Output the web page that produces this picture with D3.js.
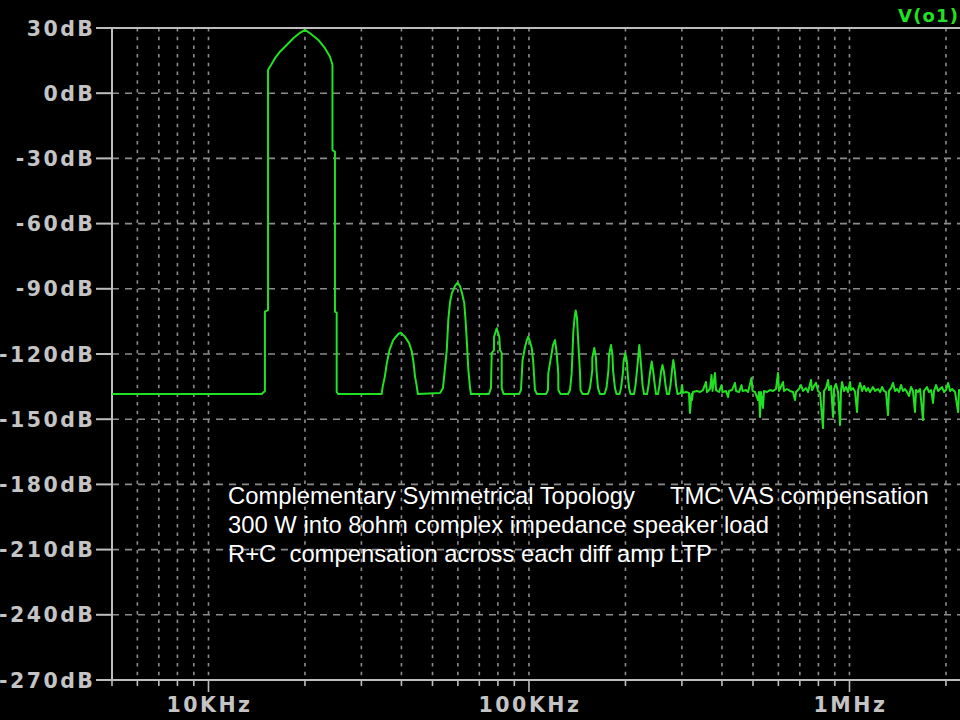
<!DOCTYPE html>
<html><head><meta charset="utf-8">
<script src="https://cdn.jsdelivr.net/npm/d3@7"></script>
<style>html,body{margin:0;padding:0;background:#000;overflow:hidden}</style>
</head><body>
<svg id="c" width="960" height="720"></svg>
<script>
// ---- data (frequency in kHz, level in dB) ----
const yTicks = [30, 0, -30, -60, -90, -120, -150, -180, -210, -240, -270];
const xLabelTicks = [10, 100, 1000];
const xLabels = ["10KHz", "100KHz", "1MHz"];
const traceName = "V(o1)";
const noteLine1a = "Complementary Symmetrical Topology";
const noteLine1b = "TMC VAS compensation";
const noteLine2 = "300 W into 8ohm complex impedance speaker load";
const noteLine3 = "R+C  compensation across each diff amp LTP";

const floorLead = [[5, -138.4]];
const fundamental = [[14.66,-138.4],[15.0,-137.0],[15.0,-100.5],[15.34,-99.8],[15.34,10.7],[15.56,12.2],[16.13,16.1],[16.71,19.1],[17.54,22.2],[18.39,25.3],[19.3,27.8],[20.0,29.1],[20.74,27.6],[22.02,24.5],[23.09,20.7],[23.94,16.8],[24.37,13.0],[24.37,-26.1],[24.81,-27.0],[24.81,-100.5],[25.12,-101.0],[25.12,-137.5],[25.36,-138.4]];
const harmonics = [
 [34.7,-138.4],[34.96,-135.0],[35.5,-130.4],[36.0,-124.3],[36.7,-118.2],[37.7,-113.6],[39.1,-110.8],[39.8,-110.2],[41.0,-112.0],[42.3,-115.1],[43.1,-118.9],[43.6,-123.5],[44.1,-130.4],[44.6,-134.3],[45.0,-138.4],
 [52.8,-138.0],[53.9,-135.7],[54.5,-128.8],[55.4,-118.2],[56.0,-104.4],[56.7,-96.1],[57.5,-91.9],[58.8,-88.7],[59.9,-87.2],[60.9,-88.7],[61.8,-91.9],[62.8,-96.5],[63.4,-104.4],[63.9,-112.7],[64.7,-127.4],[65.5,-135.7],[65.9,-138.4],
 [75.0,-138.4],[76.1,-135.7],[76.5,-119.6],[77.8,-118.2],[77.8,-112.2],[79.3,-108.2],[80.8,-112.2],[81.2,-118.2],[82.2,-119.6],[82.2,-135.7],[83.3,-138.4],
 [93.1,-138.4],[94.4,-136.6],[95.5,-122.8],[97.2,-116.8],[98.3,-114.0],[99.5,-112.0],[100.7,-114.4],[102.0,-117.2],[103.1,-123.7],[104.4,-136.6],[105.9,-138.4],
 [113.0,-138.4],[114.6,-136.6],[114.9,-128.8],[117.7,-119.6],[118.8,-115.9],[120.6,-113.6],[122.0,-119.6],[123.4,-128.8],[123.5,-136.6],[125.4,-138.4],
 [132.4,-138.4],[134.3,-136.6],[135.9,-128.8],[137.5,-109.9],[138.7,-103.4],[139.9,-100.0],[141.2,-103.4],[141.9,-109.9],[144.3,-128.8],[144.8,-136.6],[146.9,-138.4],
 [152.8,-138.4],[155.0,-135.7],[157.6,-127.4],[157.6,-121.8],[159.9,-117.2],[161.8,-121.8],[162.4,-127.4],[164.2,-135.7],[166.5,-138.4],
 [172.0,-138.4],[174.5,-135.7],[177.0,-127.4],[177.7,-120.5],[180.2,-115.9],[182.2,-120.5],[182.9,-127.4],[185.5,-135.7],[187.5,-138.4],
 [191.7,-138.4],[193.7,-135.7],[196.5,-128.3],[197.2,-123.7],[199.8,-119.6],[202.2,-123.7],[203.0,-128.3],[205.2,-135.7],[207.4,-138.4],
 [212.7,-138.4],[215.0,-134.3],[218.1,-125.1],[220.9,-115.9],[223.7,-125.1],[226.1,-134.3],[228.5,-138.4],
 [233.6,-138.4],[236.1,-134.3],[238.6,-128.3],[241.5,-123.5],[244.3,-128.3],[246.9,-134.3],[249.1,-138.4],
 [252.7,-138.4],[255.4,-134.3],[258.2,-128.3],[261.0,-125.1],[263.8,-128.3],[266.7,-134.3],[269.6,-138.4],
 [273.5,-138.4],[276.4,-134.3],[279.4,-127.4],[282.0,-122.8],[284.9,-127.4],[287.6,-134.3],[290.7,-138.4]
];
const noise = [[291.7,-138.4],[298,-137.9],[300.2,-134.3],[302.4,-137.9],[309,-137.5],[315.6,-137.9],[317.9,-147.1],[321.3,-138.4],[322.5,-141.2],[324.8,-137.5],[334.3,-137.0],[341.6,-137.5],[349,-136.6],[356.6,-132.9],[359.2,-137.5],[367.1,-136.1],[371.1,-129.7],[373.8,-137.0],[380.6,-128.7],[383.3,-136.6],[391.7,-137.5],[398.8,-134.3],[401.7,-137.5],[411.9,-137.0],[417.9,-139.8],[420.9,-137.0],[430,-136.6],[439.4,-133.3],[442.6,-137.0],[452.2,-137.5],[460.5,-134.3],[463.8,-137.0],[475.6,-136.6],[482.4,-137.5],[494.6,-131.0],[498.2,-137.0],[507.2,-137.5],[518.3,-141.2],[522,-137.5],[525.8,-149.0],[529.6,-137.5],[537.2,-144.8],[541.1,-137.0],[552.8,-137.5],[565,-136.6],[577.3,-137.0],[589.8,-136.1],[598.4,-128.7],[602.8,-137.0],[620.4,-132.9],[624.9,-137.0],[638.4,-136.1],[652.3,-137.0],[666.4,-137.5],[676.1,-141.2],[681,-137.5],[695.9,-136.1],[706.1,-134.3],[716.2,-137.0],[731.7,-135.7],[742.5,-137.5],[758.6,-132.0],[764.1,-136.6],[775.2,-134.7],[786.4,-133.3],[797.8,-137.0],[809.3,-137.9],[826.9,-154.1],[832.9,-137.0],[845,-135.7],[857.2,-132.0],[863.4,-136.6],[875.9,-134.7],[888.6,-149.0],[895,-136.1],[908,-133.8],[921.1,-137.5],[934.4,-152.7],[941.2,-136.6],[948,-132.9],[961.7,-137.0],[975.6,-135.2],[989.7,-137.5],[1004,-132.9],[1011,-136.6],[1026,-135.7],[1041,-137.5],[1056,-146.7],[1064,-136.6],[1079,-133.3],[1095,-137.0],[1111,-134.7],[1127,-137.0],[1143,-135.7],[1159,-137.5],[1184,-135.2],[1202,-137.0],[1228,-136.1],[1246,-137.5],[1264,-135.2],[1282,-137.0],[1300,-137.5],[1319,-148.1],[1328,-137.0],[1348,-135.7],[1367,-133.3],[1387,-137.0],[1407,-136.1],[1427,-137.5],[1448,-134.3],[1469,-137.0],[1490,-136.1],[1512,-137.5],[1534,-139.3],[1556,-135.2],[1578,-137.0],[1601,-146.7],[1613,-136.6],[1636,-137.5],[1660,-136.1],[1696,-150.4],[1708,-137.0],[1745,-135.2],[1771,-137.5],[1797,-136.6],[1823,-142.5],[1836,-137.0],[1863,-134.3],[1890,-137.0],[1917,-136.1],[1945,-135.2],[1973,-137.5],[2001,-136.6],[2031,-133.3],[2060,-137.0],[2090,-136.1],[2135,-137.5],[2182,-146.7],[2197,-136.6],[2245,-137.0]];

// ---- drawing ----
const svg = d3.select("#c");
svg.append("rect").attr("width", 960).attr("height", 720).attr("fill", "#000");

const x = d3.scaleLog().domain([5, 3000]).range([112, 1002.4]);
const y = d3.scaleLinear().domain([-270, 30]).range([680, 28]);
const gridCol = "#8c8c8c", axisCol = "#bdbdbd", textCol = "#c4c4c4";

// grid frequencies (1..9 x decade)
const gridF = [];
[1, 10, 100, 1000].forEach(d => { for (let k = 1; k <= 9; k++) { const f = k * d; if (f > 5 && f <= 3000) gridF.push(f); } });

const g = svg.append("g");
g.selectAll("line.vg").data(gridF).join("line")
  .attr("x1", d => x(d)).attr("x2", d => x(d)).attr("y1", y(30)).attr("y2", y(-270))
  .attr("stroke", gridCol).attr("stroke-width", 1.6).attr("stroke-dasharray", "3.5,5.2");
g.selectAll("line.hg").data(yTicks.slice(1, -1)).join("line")
  .attr("x1", 112).attr("x2", 960).attr("y1", d => y(d)).attr("y2", d => y(d))
  .attr("stroke", gridCol).attr("stroke-width", 1.6).attr("stroke-dasharray", "7,6");

// axes frame
const ax = svg.append("g").attr("stroke", axisCol).attr("stroke-width", 2);
ax.append("line").attr("x1", 112).attr("x2", 112).attr("y1", y(30)).attr("y2", y(-270));
ax.append("line").attr("x1", 112).attr("x2", 960).attr("y1", y(30)).attr("y2", y(30));
ax.append("line").attr("x1", 112).attr("x2", 960).attr("y1", y(-270)).attr("y2", y(-270));
ax.selectAll("line.lt").data(yTicks).join("line")
  .attr("x1", 96).attr("x2", 112).attr("y1", d => y(d)).attr("y2", d => y(d));
ax.selectAll("line.bt").data([5].concat(gridF)).join("line")
  .attr("x1", d => x(d)).attr("x2", d => x(d)).attr("y1", 680)
  .attr("y2", d => xLabelTicks.includes(d) ? 692 : 686).attr("stroke-width", 1.6);

// y labels
svg.selectAll("text.yl").data(yTicks).join("text")
  .attr("x", 95.5).attr("y", d => y(d) + 7.5).attr("text-anchor", "end")
  .attr("fill", textCol).attr("font-family", "DejaVu Sans").attr("font-weight", "bold")
  .attr("font-size", 20.5).attr("letter-spacing", 2.5).text(d => d + "dB");
// x labels
svg.selectAll("text.xl").data(xLabelTicks).join("text")
  .attr("x", d => x(d) + 1).attr("y", 712).attr("text-anchor", "middle")
  .attr("fill", textCol).attr("font-family", "DejaVu Sans").attr("font-weight", "bold")
  .attr("font-size", 20.5).attr("letter-spacing", 2.5).text((d, i) => xLabels[i]);

// trace
const trace = floorLead.concat(fundamental, harmonics, noise);
const line = d3.line().x(d => x(d[0])).y(d => y(d[1]));
svg.append("path").datum(trace).attr("d", line)
  .attr("fill", "none").attr("stroke", "#22e022").attr("stroke-width", 2)
  .attr("stroke-linejoin", "round");

// trace name
svg.append("text").attr("x", 898).attr("y", 22).attr("fill", "#22e022")
  .attr("font-family", "DejaVu Sans").attr("font-weight", "bold").attr("font-size", 18)
  .attr("letter-spacing", 1.2).text(traceName);

// notes
const nt = svg.append("g").attr("fill", "#ffffff").attr("font-family", "Liberation Sans, Arial").attr("font-size", 23.8);
const t1 = nt.append("text").attr("x", 228).attr("y", 504);
t1.append("tspan").text(noteLine1a);
t1.append("tspan").attr("x", 670).text(noteLine1b);
nt.append("text").attr("x", 228).attr("y", 533).attr("style", "white-space:pre").text(noteLine2);
nt.append("text").attr("x", 228).attr("y", 562).attr("style", "white-space:pre").text(noteLine3);
</script>
</body></html>
